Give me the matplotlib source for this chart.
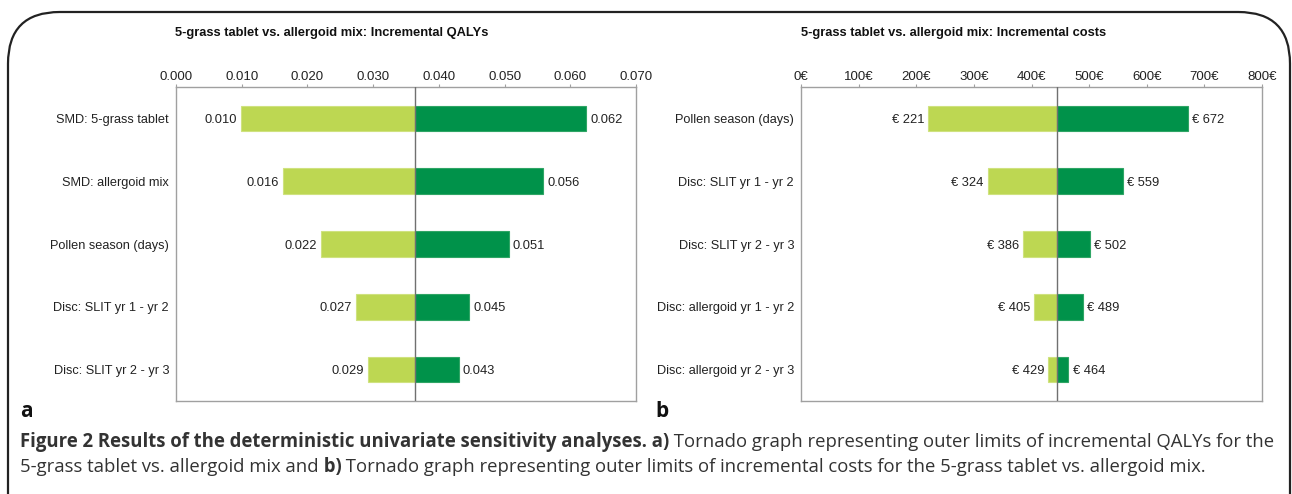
import numpy as np
import matplotlib.pyplot as plt
from matplotlib.patches import FancyBboxPatch

# data
qaly_params = ["SMD: 5-grass tablet", "SMD: allergoid mix", "Pollen season (days)",
               "Disc: SLIT yr 1 - yr 2", "Disc: SLIT yr 2 - yr 3"]
qaly_base = 0.0364
qaly_low = [0.0099, 0.0163, 0.0221, 0.0274, 0.0292]
qaly_high = [0.0624, 0.0559, 0.0506, 0.0446, 0.0430]
qaly_ticks = [0.000, 0.010, 0.020, 0.030, 0.040, 0.050, 0.060, 0.070]

cost_params = ["Pollen season (days)", "Disc: SLIT yr 1 - yr 2", "Disc: SLIT yr 2 - yr 3",
               "Disc: allergoid yr 1 - yr 2", "Disc: allergoid yr 2 - yr 3"]
cost_base = 445
cost_low = [221, 324, 386, 405, 429]
cost_high = [672, 559, 502, 489, 464]
cost_ticks = [0, 100, 200, 300, 400, 500, 600, 700, 800]

light_green = "#bdd752"
dark_green = "#00924a"
frame_grey = "#a0a0a0"

chart_font = ["Liberation Sans", "DejaVu Sans"]
caption_font = ["Open Sans", "DejaVu Sans"]

W, H = 1292, 494
fig = plt.figure(figsize=(W / 100, H / 100), dpi=100)


def px_axes(x0, x1, y0, y1):
    return fig.add_axes([x0 / W, 1 - y1 / H, (x1 - x0) / W, (y1 - y0) / H])


def tornado(ax, params, base, low, high, ticks, tick_fmt, val_fmt, title, title_x):
    y = np.arange(len(params))
    ax.barh(y, np.array(low) - base, left=base, height=0.41, color=light_green,
            edgecolor="#cfe27f", linewidth=0.8, zorder=2)
    ax.barh(y, np.array(high) - base, left=base, height=0.41, color=dark_green,
            edgecolor="#2fa565", linewidth=0.8, zorder=2)
    ax.axvline(base, color="#707070", lw=1.0, zorder=3)
    for i in range(len(params)):
        ax.annotate(val_fmt(low[i]), (low[i], y[i]), xytext=(-3, 0), textcoords="offset points",
                    ha="right", va="center_baseline", fontsize=9.3, family=chart_font, color="#222222")
        ax.annotate(val_fmt(high[i]), (high[i], y[i]), xytext=(3, 0), textcoords="offset points",
                    ha="left", va="center_baseline", fontsize=9.3, family=chart_font, color="#222222")
    ax.set_ylim(len(params) - 0.5, -0.5)
    ax.set_yticks(y)
    ax.set_yticklabels(params, fontsize=9.2, family=chart_font, color="#222222")
    ax.tick_params(axis="y", length=0, pad=5)
    ax.set_xlim(ticks[0], ticks[-1])
    ax.set_xticks(ticks)
    ax.set_xticklabels([tick_fmt(t) for t in ticks], fontsize=9.5, family=chart_font, color="#222222")
    ax.xaxis.tick_top()
    ax.tick_params(axis="x", length=2, width=0.8, color=frame_grey, pad=1)
    for s in ax.spines.values():
        s.set_color(frame_grey)
        s.set_linewidth(1.0)
    fig.text(title_x / W, 1 - 33 / H, title, ha="center", va="center", fontsize=9.3,
             fontweight="bold", family=chart_font, color="#111111")


ax1 = px_axes(176, 636, 87, 401)
tornado(ax1, qaly_params, qaly_base, qaly_low, qaly_high, qaly_ticks,
        lambda t: f"{t:.3f}", lambda v: f"{v:.3f}",
        "5-grass tablet vs. allergoid mix: Incremental QALYs", 332)

ax2 = px_axes(801, 1262, 87, 401)
tornado(ax2, cost_params, cost_base, cost_low, cost_high, cost_ticks,
        lambda t: f"{t}€", lambda v: f"€ {v}",
        "5-grass tablet vs. allergoid mix: Incremental costs", 954)

# panel letters
fig.text(20 / W, 1 - 411 / H, "a", fontsize=15, fontweight="bold", family=caption_font,
         ha="left", va="center", color="#111111")
fig.text(655 / W, 1 - 411 / H, "b", fontsize=15, fontweight="bold", family=caption_font,
         ha="left", va="center", color="#111111")

# rounded frame around the figure
frame = FancyBboxPatch((8 / W, -0.2), (1290 - 8) / W, (H - 12) / H + 0.2,
                       boxstyle="round,pad=0,rounding_size=0.04", transform=fig.transFigure,
                       facecolor="none", edgecolor="#222222", linewidth=1.6, mutation_aspect=W / H)
fig.add_artist(frame)

# caption with mixed bold / regular pieces, placed on a common baseline
caption_lines = [
    [("Figure 2 Results of the deterministic univariate sensitivity analyses.", "bold"),
     (" a)", "bold"),
     (" Tornado graph representing outer limits of incremental QALYs for the", "normal")],
    [("5-grass tablet vs. allergoid mix and", "normal"), (" b)", "bold"),
     (" Tornado graph representing outer limits of incremental costs for the 5-grass tablet vs. allergoid mix.", "normal")],
]
caption_base = [447, 472]
renderer = fig.canvas.get_renderer()
for line, ypx in zip(caption_lines, caption_base):
    x = 20
    for txt, weight in line:
        t = fig.text(x / W, 1 - ypx / H, txt, fontsize=13.35, fontweight=weight,
                     family=caption_font, ha="left", va="baseline", color="#333333")
        x = t.get_window_extent(renderer).x1

fig.savefig("out.png", dpi=100)
